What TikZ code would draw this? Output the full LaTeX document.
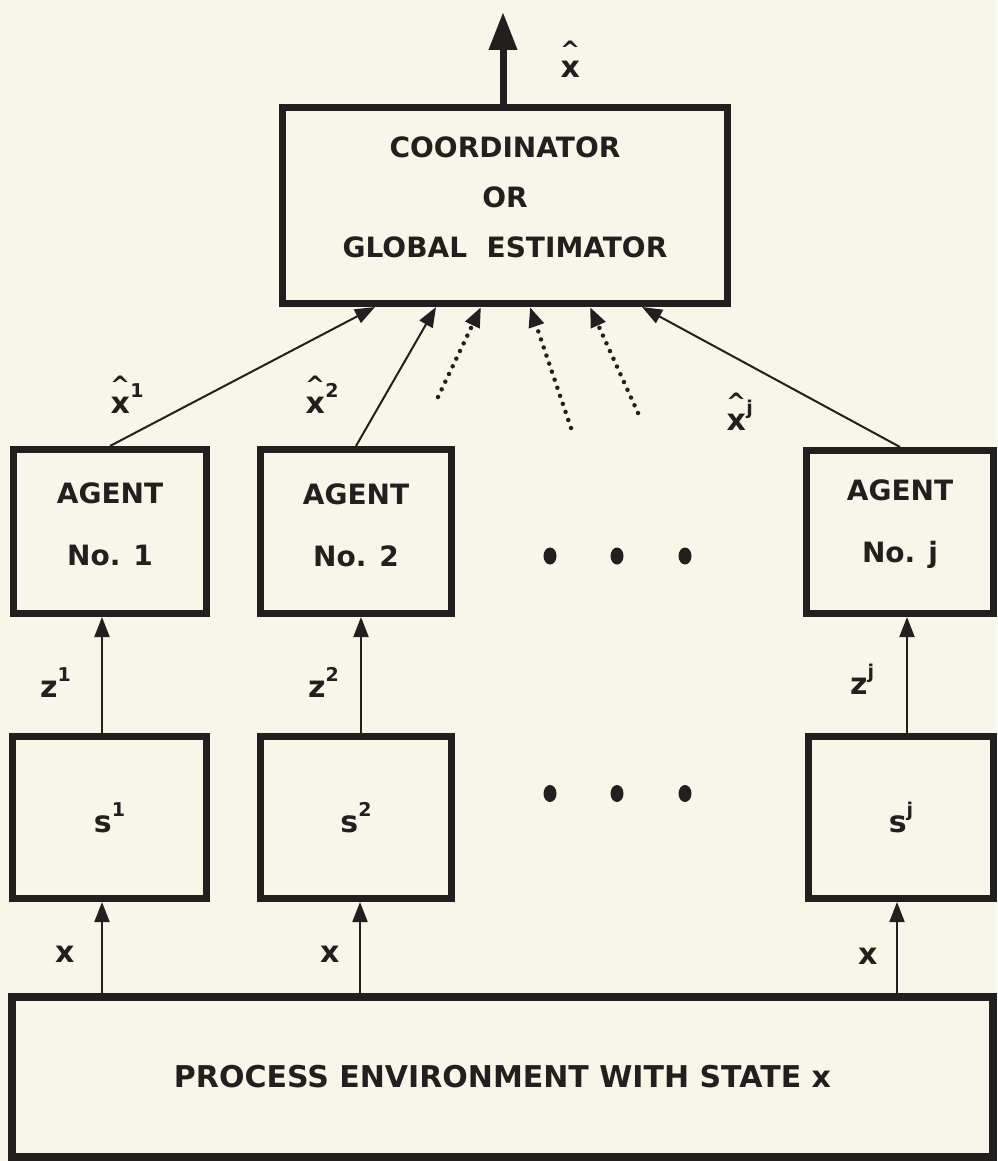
\documentclass[tikz,border=0pt]{standalone}
\usepackage{fontspec}
\setmainfont{DejaVu Sans}
\usetikzlibrary{arrows.meta}
\definecolor{paper}{RGB}{247,246,232}
\definecolor{ink}{RGB}{34,32,30}
% raised index after a symbol
\newcommand\upidx[1]{\raisebox{16pt}{\fontsize{19}{19}\selectfont #1}}
% x with a caret above it
\newcommand\hatx{\shortstack{{\fontsize{24}{24}\selectfont\textasciicircum}\\x}}

\begin{document}
\begin{tikzpicture}[x=1pt,y=-1pt,
  box/.style={draw=ink, line width=7pt, inner sep=0pt, align=center, text=ink,
              font=\bfseries\fontsize{28}{62}\selectfont},
  lbl/.style={inner sep=0pt, anchor=base west, text=ink,
              font=\bfseries\fontsize{30}{30}\selectfont},
  link/.style={draw=ink, line width=2pt, -{Triangle[length=20pt,width=15pt]}},
  dotlink/.style={link, line width=4.5pt, line cap=round, dash pattern=on 0pt off 8.5pt},
  outlink/.style={draw=ink, line width=7pt, -{Triangle[length=38pt,width=27pt]}},
]
\fill[paper] (0,0) rectangle (997,1161);
\useasboundingbox (0,0) rectangle (997,1161);
\clip (0,0) rectangle (997,1161);

% coordinator
\node[box, minimum width=445pt, minimum height=196pt, text depth=16pt,
      font=\bfseries\fontsize{28}{50}\selectfont] (coord) at (505,205.5)
  {COORDINATOR\\OR\\GLOBAL\hspace{0.7em}ESTIMATOR};

% agents
\node[box, minimum width=193pt, minimum height=164pt, text depth=14pt] (a1) at (110,531.5) {AGENT\\No. 1};
\node[box, minimum width=191pt, minimum height=164pt, text depth=12pt] (a2) at (356,531.5) {AGENT\\No. 2};
\node[box, minimum width=187pt, minimum height=163pt, text depth=22pt] (aj) at (900,532) {AGENT\\No. j};

% sensors
\node[box, minimum width=194pt, minimum height=162pt,
      font=\bfseries\fontsize{30}{36}\selectfont] (s1) at (109.5,817.5) {s\upidx{1}};
\node[box, minimum width=191pt, minimum height=162pt,
      font=\bfseries\fontsize{30}{36}\selectfont] (s2) at (356,817.5) {s\upidx{2}};
\node[box, minimum width=185pt, minimum height=162pt,
      font=\bfseries\fontsize{30}{36}\selectfont] (sj) at (901,817.5) {s\upidx{j}};

% process environment
\node[box, line width=8pt, minimum width=981pt, minimum height=160pt,
      font=\bfseries\fontsize{30}{36}\selectfont] (env) at (502.5,1077)
  {PROCESS ENVIRONMENT WITH STATE x};

% ellipsis dots between the columns
\foreach \dx in {550,617,685} {
  \fill[ink] (\dx,556) ellipse [x radius=6.5pt, y radius=8.5pt];
  \fill[ink] (\dx,793.5) ellipse [x radius=6.5pt, y radius=8.5pt];
}

% global estimate output
\coordinate (out) at (503,12);
\draw[outlink] (coord.north -| out) -- (out);
\node[lbl] (lxhat) at (560,78) {\hatx};

% local estimates into the coordinator
\coordinate (t1) at (375,0);
\coordinate (t2) at (436,0);
\coordinate (tj) at (642,0);
\draw[link] (a1.north) -- (coord.south -| t1);
\draw[link] (a2.north) -- (coord.south -| t2);
\draw[link] (aj.north) -- (coord.south -| tj);

\coordinate (d1s) at (438,397);
\coordinate (d1t) at (481,0);
\coordinate (d2s) at (571,428);
\coordinate (d2t) at (530,0);
\coordinate (d3s) at (638,413);
\coordinate (d3t) at (590,0);
\draw[dotlink] (d1s) -- (coord.south -| d1t);
\draw[dotlink] (d2s) -- (coord.south -| d2t);
\draw[dotlink] (d3s) -- (coord.south -| d3t);

\node[lbl] (lxh1) at (110,413) {\hatx\upidx{1}};
\node[lbl] (lxh2) at (305,413) {\hatx\upidx{2}};
\node[lbl] (lxhj) at (726,430) {\hatx\upidx{j}};

% measurements into the agents
\coordinate (v1) at (102,0);
\coordinate (v2) at (361,0);
\coordinate (vj) at (907,0);
\draw[link] (s1.north -| v1) -- (a1.south -| v1);
\draw[link] (s2.north -| v2) -- (a2.south -| v2);
\draw[link] (sj.north -| vj) -- (aj.south -| vj);
\node[lbl] (lz1) at (40,697) {z\upidx{1}};
\node[lbl] (lz2) at (308,697) {z\upidx{2}};
\node[lbl] (lzj) at (850,694) {z\upidx{j}};

% state into the sensors
\coordinate (w1) at (102,0);
\coordinate (w2) at (360,0);
\coordinate (wj) at (897,0);
\draw[link] (env.north -| w1) -- (s1.south -| w1);
\draw[link] (env.north -| w2) -- (s2.south -| w2);
\draw[link] (env.north -| wj) -- (sj.south -| wj);
\node[lbl] (lx1) at (55,962) {x};
\node[lbl] (lx2) at (320,962) {x};
\node[lbl] (lxj) at (858,964) {x};
\end{tikzpicture}
\end{document}
